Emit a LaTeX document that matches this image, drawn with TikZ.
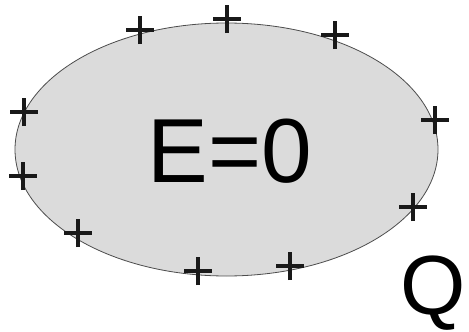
\documentclass[tikz,border=0pt]{standalone}
\usepackage{fontspec}
\setmainfont{Liberation Sans}
\begin{document}
\begin{tikzpicture}[x=1pt,y=-1pt,
  body/.style={fill=black!14,draw=black!70,line width=0.8pt},
  plusmark/.style={line width=3.6pt,black!90},
  bigtext/.style={inner sep=0pt,anchor=base,font=\fontsize{91}{91}\selectfont},
  qtext/.style={inner sep=0pt,anchor=base,font=\fontsize{84}{84}\selectfont}]
\useasboundingbox (0,0) rectangle (469,332);
\draw[body] (226.5,149.5) ellipse [x radius=211.5,y radius=126.5];
\node[bigtext] (e) at (230,182) {E=0};
\node[qtext] (q) at (433,314) {Q};
\foreach \x/\y [count=\i] in {140/30,227/19,335/35,24/112,23/176,78/233,198/271,290/266,413/207,435/120}{
  \coordinate (p\i) at (\x,\y);
  \draw[plusmark] ([xshift=-14pt]p\i) -- ([xshift=14pt]p\i);
  \draw[plusmark] ([yshift=-14pt]p\i) -- ([yshift=14pt]p\i);
}
\end{tikzpicture}
\end{document}
